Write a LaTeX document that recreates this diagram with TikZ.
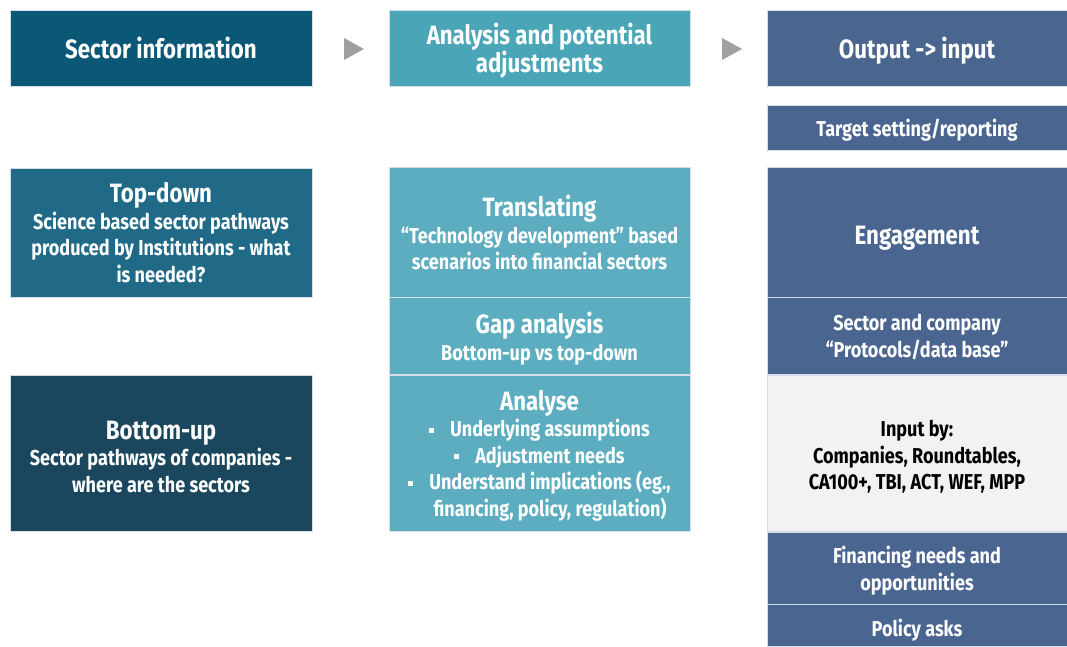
\documentclass[tikz,border=0pt]{standalone}
\usepackage{fontspec}
\setmainfont{Fira Sans}[FakeStretch=0.84]
\usetikzlibrary{calc}
\definecolor{csect}{HTML}{0B5876}
\definecolor{canal}{HTML}{4AA6B7}
\definecolor{cout}{HTML}{4A668F}
\definecolor{ctop}{HTML}{216A87}
\definecolor{cbot}{HTML}{1A475D}
\definecolor{cmid}{HTML}{5BADBF}
\definecolor{cright}{HTML}{4A6690}
\definecolor{cinput}{HTML}{F2F2F2}
\definecolor{cline}{HTML}{D3DEE6}
\definecolor{carrow}{HTML}{A0A0A0}
\newcommand{\hdf}{\fontsize{26.5}{26.5}\selectfont}
\newcommand{\bdf}{\fontsize{21.5}{26.5}\selectfont}
\newcommand{\blt}{\raisebox{4pt}{\rule{5pt}{5pt}}}
\newcommand{\lift}[1]{\rule{0pt}{#1}}
\tikzset{
  box/.style={rectangle, inner sep=0pt, outer sep=0pt, draw=cline, line width=0.8pt,
    text=white, align=center, font=\bfseries\bdf, text depth=0pt},
}
\begin{document}
\begin{tikzpicture}[x=1pt,y=-1pt]
\useasboundingbox (0,0) rectangle (1067,646);
% headers
\node[box, fill=csect, minimum width=302pt, minimum height=76pt, font=\bfseries\hdf] (sect) at (161,48) {Sector information};
\node[box, fill=canal, minimum width=301pt, minimum height=76pt, font=\bfseries\hdf] (anal) at (539.5,48) {Analysis and potential\\adjustments};
\node[box, fill=cout, minimum width=300pt, minimum height=76pt, font=\bfseries\hdf] (outp) at (917,48) {Output -> input};
% arrows
\fill[carrow] (344,38) -- (364,49) -- (344,60) -- cycle;
\fill[carrow] (722,38) -- (742,49) -- (722,60) -- cycle;
% column 1
\node[box, fill=ctop, minimum width=302pt, minimum height=129pt] (top) at (161,232.5)
  {{\hdf Top-down}\\Science based sector pathways\\produced by Institutions - what\\is needed?};
\node[box, fill=cbot, minimum width=302pt, minimum height=156pt] (bot) at (161,453)
  {\lift{25pt}{\hdf Bottom-up}\\Sector pathways of companies -\\where are the sectors};
% column 2
\node[box, fill=cmid, minimum width=301pt, minimum height=130pt] (trans) at (539.5,232.5)
  {{\hdf Translating}\\“Technology development” based\\scenarios into financial sectors};
\node[box, fill=cmid, minimum width=301pt, minimum height=77pt] (gap) at (539.5,336)
  {{\hdf Gap analysis}\\Bottom-up vs top-down};
\node[box, fill=cmid, minimum width=301pt, minimum height=156pt] (analyse) at (539.5,453)
  {{\hdf Analyse}\\\blt\hspace{16pt}Underlying assumptions\\\blt\hspace{16pt}Adjustment needs\\
   \blt\hspace{16pt}Understand implications (eg.,\\\phantom{\blt\hspace{16pt}}financing, policy, regulation)};
% column 3
\node[box, fill=cright, minimum width=300pt, minimum height=45pt] (target) at (917,127.5)
  {Target setting/reporting};
\node[box, fill=cright, minimum width=300pt, minimum height=130pt] (eng) at (917,232.5)
  {\lift{24pt}{\hdf Engagement}};
\node[box, fill=cright, minimum width=300pt, minimum height=77pt] (proto) at (917,336)
  {Sector and company\\“Protocols/data base”};
\node[box, fill=cinput, text=black, minimum width=300pt, minimum height=156pt] (input) at (917,453)
  {\lift{20pt}Input by:\\Companies, Roundtables,\\CA100+, TBI, ACT, WEF, MPP};
\node[box, fill=cright, minimum width=300pt, minimum height=72pt] (fin) at (917,568)
  {\lift{18pt}Financing needs and\\opportunities};
\node[box, fill=cright, minimum width=300pt, minimum height=42pt] (policy) at (917,625)
  {\lift{22pt}Policy asks};
\end{tikzpicture}
\end{document}
